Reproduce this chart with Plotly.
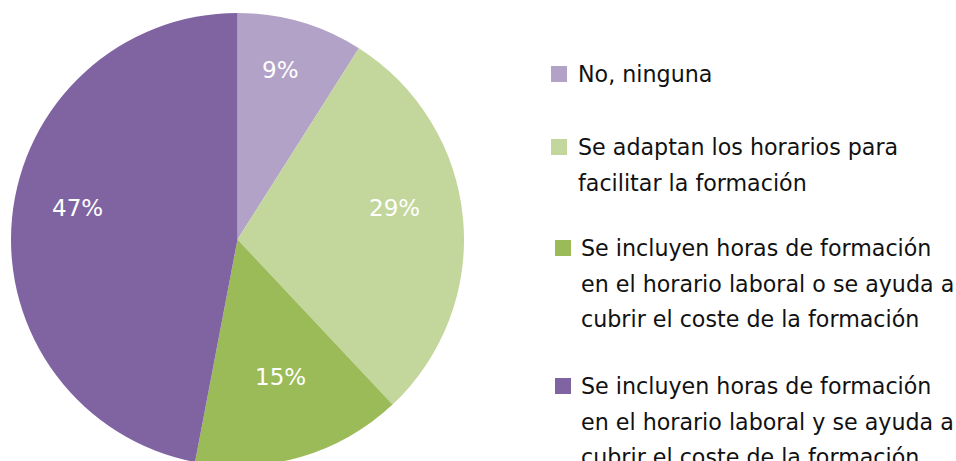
import math
import plotly.graph_objects as go

labels = [
    "No, ninguna",
    "Se adaptan los horarios para facilitar la formación",
    "Se incluyen horas de formación en el horario laboral o se ayuda a cubrir el coste de la formación",
    "Se incluyen horas de formación en el horario laboral y se ayuda a cubrir el coste de la formación",
]
legend_lines = [
    ["No, ninguna"],
    ["Se adaptan los horarios para", "facilitar la formación"],
    ["Se incluyen horas de formación", "en el horario laboral o se ayuda a", "cubrir el coste de la formación"],
    ["Se incluyen horas de formación", "en el horario laboral y se ayuda a", "cubrir el coste de la formación"],
]
values = [9, 29, 15, 47]
colors = ["#b3a2c7", "#c3d69b", "#9bbb59", "#8064a2"]

W, H = 956, 470
FONT = "DejaVu Sans, sans-serif"


def xp(px):
    return px / W


def yp(py):
    return 1 - py / H


# pie geometry in page pixels
CX, CY, R = 237.5, 239.5, 226.5

fig = go.Figure()
fig.add_trace(go.Pie(
    labels=labels,
    values=values,
    sort=False,
    direction="clockwise",
    rotation=0,
    marker=dict(colors=colors, line=dict(width=0)),
    textinfo="none",
    domain=dict(x=[xp(CX - R), xp(CX + R)], y=[yp(CY + R), yp(CY - R)]),
    showlegend=False,
    hoverinfo="label+percent",
))

# percentage labels, placed at each slice's mid-angle
total = sum(values)
cum = 0
for v in values:
    mid = (cum + v / 2) / total * 2 * math.pi
    cum += v
    lx = CX - 1.5 + 0.705 * R * math.sin(mid)
    ly = CY + 0.705 * R * -math.cos(mid)
    fig.add_annotation(x=xp(lx), y=yp(ly), xref="paper", yref="paper",
                       xanchor="center", yanchor="middle", showarrow=False,
                       yshift=16,
                       text=f"{round(v / total * 100)}%",
                       font=dict(size=23, color="white", family=FONT))

# custom legend
item_layout = [
    (551, 576, 74),
    (551, 576, 147),
    (555, 579, 248),
    (555, 579, 386),
]
line_gap = 35.5
for (sx, tx, y0), lines, c in zip(item_layout, legend_lines, colors):
    fig.add_shape(type="rect", xref="paper", yref="paper",
                  x0=xp(sx), x1=xp(sx + 16),
                  y0=yp(y0 + 8), y1=yp(y0 - 8),
                  fillcolor=c, line=dict(width=0))
    for i, ln in enumerate(lines):
        fig.add_annotation(x=xp(tx), y=yp(y0 + i * line_gap),
                           xref="paper", yref="paper",
                           xanchor="left", yanchor="middle",
                           text=ln, showarrow=False,
                           font=dict(size=22.2, color="#111111", family=FONT))

fig.update_layout(
    width=W, height=H,
    margin=dict(l=0, r=0, t=0, b=0),
    paper_bgcolor="white",
    plot_bgcolor="white",
)
fig.write_html(
    "out.html",
    config={"displayModeBar": False},
    post_script="document.body.style.margin='0';document.body.style.overflow='hidden';",
)
